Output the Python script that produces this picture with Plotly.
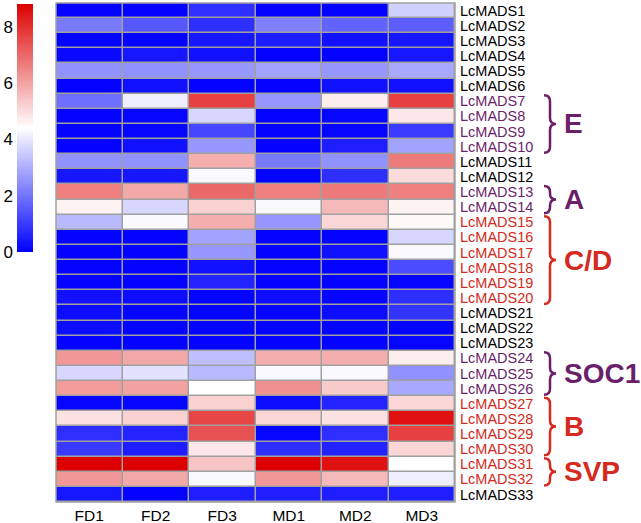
import numpy as np
import plotly.graph_objects as go

samples = ["FD1", "FD2", "FD3", "MD1", "MD2", "MD3"]
genes = [f"LcMADS{i}" for i in range(1, 34)]

FD1 = [0.05, 2.1, 0.05, 0.15, 2.5, 0.05, 1.9, 0.05, 0.05, 0.05, 2.5, 0.4, 6.6, 4.6, 3.2, 0.05, 0.05,
       0.05, 0.05, 0.3, 0.2, 0.2, 0.05, 6.2, 3.7, 6.1, 0.1, 4.9, 0.8, 1.0, 8.8, 6.2, 0.4]
FD2 = [0.05, 1.5, 0.05, 0.4, 2.5, 0.3, 4.1, 0.1, 0.1, 0.3, 2.5, 0.4, 5.9, 3.7, 4.3, 0.05, 0.05,
       0.05, 0.05, 0.2, 0.1, 0.05, 0.05, 5.9, 3.9, 6.0, 0.1, 5.2, 0.6, 0.5, 8.8, 5.9, 0.05]
FD3 = [0.8, 0.8, 0.4, 0.3, 2.6, 0.05, 7.7, 3.7, 1.2, 2.6, 5.8, 4.3, 7.0, 5.2, 5.8, 2.8, 2.6,
       0.3, 0.6, 0.05, 0.05, 0.05, 0.05, 3.3, 3.2, 4.4, 5.2, 7.6, 7.4, 4.8, 5.4, 4.3, 0.5]
MD1 = [0.05, 2.2, 0.5, 0.05, 2.8, 0.05, 2.6, 0.05, 0.05, 0.05, 2.1, 0.05, 6.6, 4.3, 2.6, 0.05, 0.05,
       0.05, 0.05, 0.2, 0.1, 0.05, 0.05, 5.8, 4.3, 6.3, 0.2, 5.1, 0.1, 0.8, 8.8, 6.2, 0.5]
MD2 = [0.05, 1.7, 0.3, 0.05, 2.6, 0.3, 4.7, 0.1, 0.1, 0.5, 2.5, 0.8, 6.7, 5.6, 5.1, 0.05, 0.3,
       0.05, 0.05, 0.1, 0.2, 0.05, 0.05, 5.8, 4.3, 5.3, 0.6, 4.9, 0.8, 0.6, 8.5, 5.6, 0.5]
MD3 = [3.6, 1.6, 0.4, 0.4, 2.9, 0.3, 7.7, 4.8, 1.0, 2.8, 6.7, 5.0, 6.6, 4.6, 4.5, 3.7, 4.3,
       1.3, 0.1, 0.8, 0.9, 0.05, 0.1, 4.7, 2.5, 2.9, 5.1, 8.5, 7.7, 5.1, 4.4, 4.1, 0.5]

scale_ticks = [0, 2, 4, 6, 8]
ZMAX = 8.8

PURPLE = "#6b1f6b"
RED = "#d42a20"
# (label, first row index, last row index, colour)
groups = [("E", 6, 9, PURPLE), ("A", 12, 13, PURPLE), ("C/D", 14, 19, RED),
          ("SOC1", 23, 25, PURPLE), ("B", 26, 29, RED), ("SVP", 30, 31, RED)]

W, H = 641, 523
ML, MR, MT, MB = 0, 186, 3, 21
PW, PH = W - ML - MR, H - MT - MB
HM_LEFT = 56  # px
FONT = "Arial, Liberation Sans, sans-serif"

def px(X):
    return (X - ML) / PW

def py(Y):
    return (H - MB - Y) / PH

label_col = ["#000000"] * len(genes)
for name, a, b, c in groups:
    for i in range(a, b + 1):
        label_col[i] = c
ticktext = [f"<span style='color:{c}'>{g}</span>" for g, c in zip(genes, label_col)]

z = np.array([FD1, FD2, FD3, MD1, MD2, MD3]).T
colorscale = [[0, "#0000ff"], [0.5, "#ffffff"], [1, "#dd0000"]]

fig = go.Figure()
fig.add_trace(go.Heatmap(z=z, x=list(range(len(samples))), y=list(range(len(genes))),
                         coloraxis="coloraxis", xgap=1.5, ygap=1.5, hoverinfo="skip"))
levels = np.linspace(0, ZMAX, 221)
fig.add_trace(go.Heatmap(z=[[v] for v in levels], x=[0], y=levels, coloraxis="coloraxis",
                         xaxis="x2", yaxis="y2", hoverinfo="skip"))

fig.update_layout(
    width=W, height=H, margin=dict(l=ML, r=MR, t=MT, b=MB),
    paper_bgcolor="white", plot_bgcolor="#a0a0a0",
    font=dict(family=FONT, size=15, color="black"),
    coloraxis=dict(colorscale=colorscale, cmin=0, cmax=ZMAX, showscale=False),
    xaxis=dict(domain=[px(HM_LEFT), 1], range=[-0.5, 5.5], tickvals=list(range(6)), ticktext=samples,
               showgrid=False, zeroline=False, ticks="", tickfont=dict(size=15.5), ticklabelstandoff=2),
    yaxis=dict(domain=[0, 1], range=[32.5, -0.5], tickvals=list(range(len(genes))), ticktext=ticktext,
               side="right", showgrid=False, zeroline=False, ticks="", tickfont=dict(size=14.5),
               ticklabelstandoff=4),
    xaxis2=dict(domain=[px(17), px(33)], anchor="y2", range=[-0.5, 0.5], visible=False),
    yaxis2=dict(domain=[py(252), py(4)], anchor="x2", range=[0, ZMAX], tickvals=scale_ticks,
                side="left", showgrid=False, zeroline=False, ticks="", tickfont=dict(size=17),
                ticklabelstandoff=3),
)

shapes = [dict(type="rect", xref="paper", yref="paper", x0=px(HM_LEFT), x1=1, y0=0, y1=1,
               line=dict(color="#a0a0a0", width=1.5))]
annotations = []
row_h = PH / len(genes)
for name, a, b, c in groups:
    yt = MT + row_h * a + 1.5
    yb = MT + row_h * (b + 1) - 1.5
    ym = (yt + yb) / 2
    x0, w = 544, 12
    xm, xt = x0 + w / 2, x0 + w
    r = min(6, (yb - yt) / 4)
    path = (f"M {px(x0)},{py(yt)} Q {px(xm)},{py(yt)} {px(xm)},{py(yt + r)} "
            f"L {px(xm)},{py(ym - r)} Q {px(xm)},{py(ym)} {px(xt)},{py(ym)} "
            f"Q {px(xm)},{py(ym)} {px(xm)},{py(ym + r)} L {px(xm)},{py(yb - r)} "
            f"Q {px(xm)},{py(yb)} {px(x0)},{py(yb)}")
    shapes.append(dict(type="path", xref="paper", yref="paper", path=path,
                       line=dict(color=c, width=2.5)))
    annotations.append(dict(xref="paper", yref="paper", x=px(xt + 6), y=py(ym), xanchor="left",
                            yanchor="middle", showarrow=False, text=f"<b>{name}</b>",
                            font=dict(size=28, color=c, family=FONT)))
fig.update_layout(shapes=shapes, annotations=annotations)

fig.write_html("out.html", config={"displayModeBar": False},
               post_script="document.body.style.margin='0';")
